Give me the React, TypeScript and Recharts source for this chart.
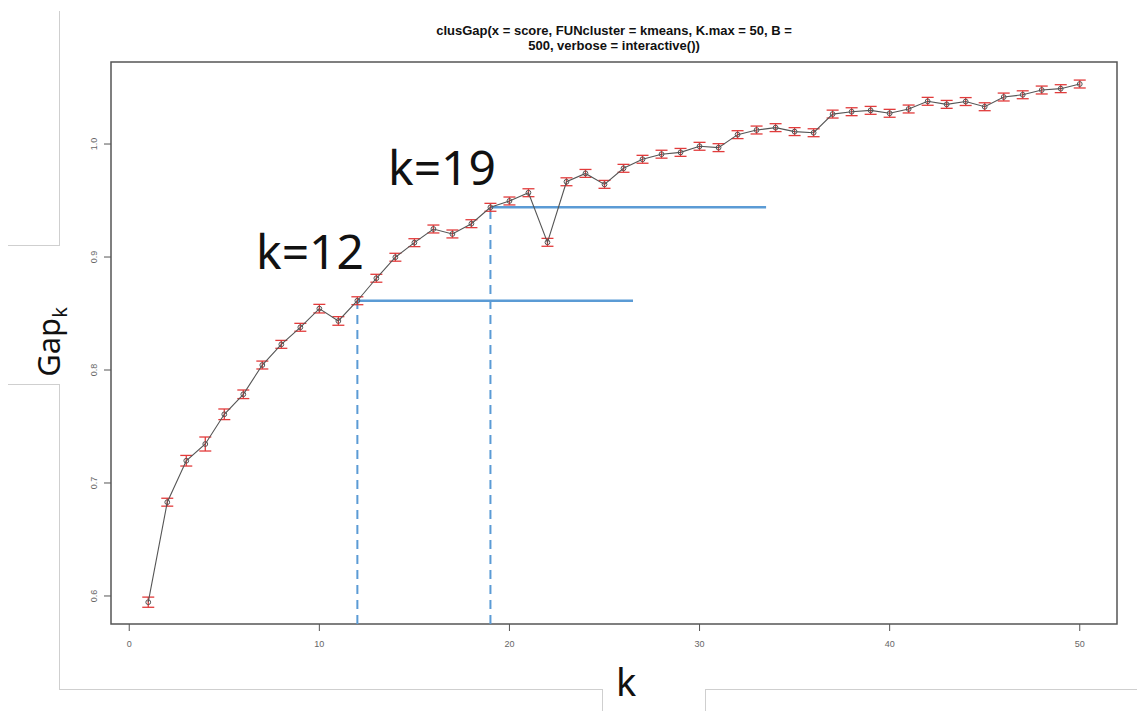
import React from 'react';
import {
  LineChart,
  Line,
  XAxis,
  YAxis,
  ErrorBar,
  ReferenceLine,
  ReferenceArea,
} from 'recharts';

// gap statistic per k
const kValues = Array.from({ length: 50 }, (_, i) => i + 1);
const gapValues = [
  0.5945, 0.683, 0.7197, 0.7345, 0.7608, 0.7785, 0.8044, 0.8227, 0.8378, 0.8543,
  0.8434, 0.8613, 0.8812, 0.8998, 0.9127, 0.9248, 0.9204, 0.9295, 0.944, 0.9496,
  0.9569, 0.913, 0.9666, 0.974, 0.9643, 0.9785, 0.9865, 0.991, 0.9926, 0.998,
  0.9968, 1.0083, 1.0124, 1.0145, 1.011, 1.01, 1.0265, 1.0286, 1.0298, 1.0272,
  1.031, 1.0378, 1.0351, 1.0376, 1.033, 1.0416, 1.0436, 1.0478, 1.049, 1.0531,
];
// standard errors (half length of the red bars)
const seValues = [
  0.0045, 0.0035, 0.0047, 0.0062, 0.0047, 0.0038, 0.0035, 0.0035, 0.0035, 0.0038,
  0.0038, 0.0035, 0.0035, 0.0035, 0.0035, 0.0035, 0.0035, 0.0035, 0.0035, 0.0035,
  0.0035, 0.0035, 0.0035, 0.0035, 0.0035, 0.0035, 0.0035, 0.0035, 0.0035, 0.0035,
  0.0035, 0.0035, 0.0035, 0.0035, 0.0035, 0.0035, 0.0035, 0.0035, 0.0035, 0.0035,
  0.0035, 0.0035, 0.0035, 0.0035, 0.0035, 0.0035, 0.0035, 0.0035, 0.0035, 0.0035,
];

const xTicks = [0, 10, 20, 30, 40, 50];
const yTicks = [0.6, 0.7, 0.8, 0.9, 1.0];
const xDomain = [-0.96, 51.96];
const yDomain = [0.5752, 1.0726];

// highlighted choices of k and how far the guide line runs
const markedK = [12, 19];
const guideEnds = [26.5, 33.5];

const data = kValues.map((k, i) => ({ k, gap: gapValues[i], se: seValues[i] }));

const titleLines = [
  'clusGap(x = score, FUNcluster = kmeans, K.max = 50, B =',
  '500, verbose = interactive())',
];

const blue = '#5b9bd5';
const frame = '#cfcfcf';

const YTick = (props: any) => {
  const { x, y, payload } = props;
  const tx = x - 5;
  return (
    <text
      x={tx}
      y={y}
      transform={`rotate(-90 ${tx} ${y})`}
      textAnchor="middle"
      fontSize={9}
      fill="#666"
      fontFamily="Liberation Sans, Arial, sans-serif"
    >
      {payload.value.toFixed(1)}
    </text>
  );
};

const Dot = (props: any) => {
  const { cx, cy } = props;
  return <circle cx={cx} cy={cy} r={2.4} fill="none" stroke="#555" strokeWidth={1} />;
};

const line = (style: React.CSSProperties): React.CSSProperties => ({
  position: 'absolute',
  background: frame,
  ...style,
});

const App = () => {
  return (
    <div
      style={{
        position: 'absolute',
        left: 0,
        top: 0,
        width: 1137,
        height: 711,
        background: '#fff',
        overflow: 'hidden',
        fontFamily: 'Noto Sans, sans-serif',
      }}
    >
      {/* stray frame lines around the screenshot */}
      <div style={line({ left: 59, top: 11, width: 1, height: 234 })} />
      <div style={line({ left: 8, top: 245, width: 52, height: 1 })} />
      <div style={line({ left: 8, top: 384, width: 52, height: 1 })} />
      <div style={line({ left: 59, top: 384, width: 1, height: 306 })} />
      <div style={line({ left: 59, top: 689, width: 544, height: 1 })} />
      <div style={line({ left: 602, top: 689, width: 1, height: 22 })} />
      <div style={line({ left: 705, top: 689, width: 1, height: 22 })} />
      <div style={line({ left: 705, top: 689, width: 432, height: 1 })} />

      <div
        style={{
          position: 'absolute',
          left: 111,
          width: 1006,
          top: 23,
          textAlign: 'center',
          fontFamily: 'Liberation Sans, Arial, sans-serif',
          fontWeight: 'bold',
          fontSize: 13,
          lineHeight: '15px',
          color: '#111',
        }}
      >
        <div>{titleLines[0]}</div>
        <div>{titleLines[1]}</div>
      </div>

      <div style={{ position: 'absolute', left: 0, top: 0 }}>
        <LineChart
          width={1137}
          height={711}
          data={data}
          margin={{ top: 62, right: 20, bottom: 57, left: 81 }}
        >
          <XAxis
            dataKey="k"
            type="number"
            domain={xDomain}
            ticks={xTicks}
            allowDataOverflow
            axisLine={false}
            tickLine={{ stroke: '#555' }}
            tickSize={7}
            height={30}
            tick={{ fontSize: 9, fill: '#666', fontFamily: 'Liberation Sans, Arial, sans-serif', dy: 8 }}
          />
          <YAxis
            type="number"
            domain={yDomain}
            ticks={yTicks}
            allowDataOverflow
            axisLine={false}
            tickLine={{ stroke: '#555' }}
            tickSize={7}
            width={30}
            tick={<YTick />}
          />
          <ReferenceArea
            x1={xDomain[0]}
            x2={xDomain[1]}
            y1={yDomain[0]}
            y2={yDomain[1]}
            fill="none"
            stroke="#555"
            strokeWidth={1.5}
          />
          {markedK.map((k, i) => (
            <ReferenceLine
              key={`h${k}`}
              segment={[
                { x: k, y: gapValues[k - 1] },
                { x: guideEnds[i], y: gapValues[k - 1] },
              ]}
              stroke={blue}
              strokeWidth={2.5}
            />
          ))}
          {markedK.map((k) => (
            <ReferenceLine
              key={`v${k}`}
              segment={[
                { x: k, y: yDomain[0] },
                { x: k, y: gapValues[k - 1] },
              ]}
              stroke={blue}
              strokeWidth={2}
              strokeDasharray="9 6"
            />
          ))}
          <Line
            dataKey="gap"
            stroke="#555"
            strokeWidth={1.1}
            dot={<Dot />}
            activeDot={false}
            isAnimationActive={false}
          >
            <ErrorBar dataKey="se" width={6} stroke="#e23b3b" strokeWidth={1.3} isAnimationActive={false} />
          </Line>
        </LineChart>
      </div>

      {/* big annotations */}
      <div style={{ position: 'absolute', left: 256, top: 220, fontSize: 48, lineHeight: '62px', color: '#111' }}>
        k=12
      </div>
      <div style={{ position: 'absolute', left: 388, top: 136, fontSize: 48, lineHeight: '62px', color: '#111' }}>
        k=19
      </div>

      <div
        style={{
          position: 'absolute',
          left: 50,
          top: 342,
          transform: 'translate(-50%, -50%) rotate(-90deg)',
          fontSize: 31,
          color: '#111',
          whiteSpace: 'nowrap',
        }}
      >
        Gap<sub style={{ fontSize: 20, verticalAlign: 'sub' }}>k</sub>
      </div>
      <div style={{ position: 'absolute', left: 616, top: 656, fontSize: 38, lineHeight: '50px', color: '#111' }}>
        k
      </div>
    </div>
  );
};

export default App;
